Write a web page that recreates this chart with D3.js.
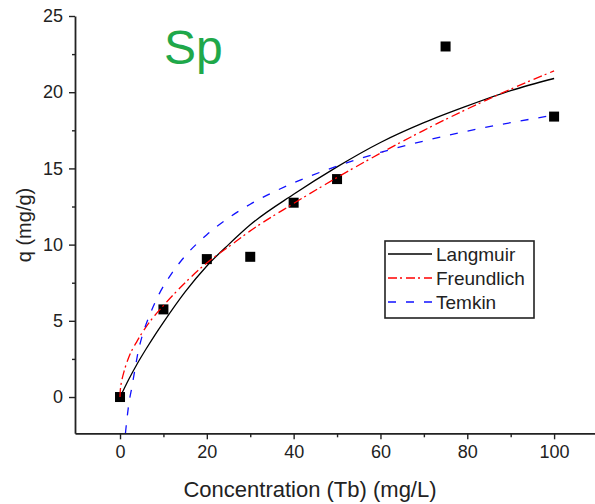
<!DOCTYPE html>
<html>
<head>
<meta charset="utf-8">
<script src="https://cdn.jsdelivr.net/npm/d3@7"></script>
<style>
  body { margin: 0; background: #fff; }
  svg { display: block; }
  text { font-family: "Liberation Sans", Arial, sans-serif; }
</style>
</head>
<body>
<svg id="chart" width="595" height="504"></svg>
<script>
// Measured adsorption data
const concentration = [0, 10, 20, 30, 40, 50, 75, 100];
const uptake = [0, 5.75, 9.05, 9.2, 12.75, 14.3, 23.0, 18.4];

// Isotherm model curves (sampled points)
const langmuirC = [0, 1, 2, 4, 6, 8, 10, 15, 20, 25, 30, 40, 50, 60, 70, 80, 90, 100];
const langmuirQ = [0, 0.58, 1.15, 2.2, 3.15, 4.05, 4.9, 6.9, 8.6, 10.0, 11.3, 13.3, 15.1, 16.7, 18.0, 19.1, 20.1, 20.9];

const freundlichC = [0, 0.05, 0.2, 0.5, 1, 2, 4, 6, 8, 10, 15, 20, 25, 30, 40, 50, 60, 70, 80, 90, 100];
const freundlichQ = [0, 0.35, 0.75, 1.2, 1.75, 2.6, 3.7, 4.6, 5.35, 6.0, 7.5, 8.8, 9.85, 10.9, 12.7, 14.4, 16.0, 17.5, 18.9, 20.2, 21.4];

const temkinC = [1.25, 1.5, 2, 2.7, 3.5, 4.2, 5, 7, 9, 12, 15, 20, 25, 30, 40, 50, 60, 70, 80, 90, 100];
const temkinQ = [-2.38, -1.7, -0.5, 0.6, 1.9, 3.0, 3.9, 5.5, 6.75, 8.15, 9.25, 10.65, 11.75, 12.65, 14.05, 15.15, 16.05, 16.8, 17.45, 18.0, 18.5];

const xTicks = [0, 20, 40, 60, 80, 100];
const xMinorTicks = [10, 30, 50, 70, 90];
const yTicks = [0, 5, 10, 15, 20, 25];
const yMinorTicks = [2.5, 7.5, 12.5, 17.5, 22.5];
const seriesNames = ["Langmuir", "Freundlich", "Temkin"];

const svg = d3.select("#chart");

const x = d3.scaleLinear().domain([-10.37, 110]).range([75, 597.5]);
const y = d3.scaleLinear().domain([-2.38, 25]).range([433.3, 16]);

// Clip curves to the plotting area
svg.append("defs").append("clipPath").attr("id", "plotArea")
  .append("rect").attr("x", 75).attr("y", 16).attr("width", 522).attr("height", 417.3);

const axisColor = "#222";

// X axis
const gx = svg.append("g").attr("transform", `translate(0,${y.range()[0]})`);
gx.call(d3.axisBottom(x).tickValues(xTicks).tickSize(6).tickSizeOuter(0).tickPadding(6));
gx.append("g").call(d3.axisBottom(x).tickValues(xMinorTicks).tickSize(4).tickFormat(""))
  .select(".domain").remove();

// Y axis
const gy = svg.append("g").attr("transform", `translate(${x.range()[0]},0)`);
gy.call(d3.axisLeft(y).tickValues(yTicks).tickSize(6).tickSizeOuter(0).tickPadding(6));
gy.append("g").call(d3.axisLeft(y).tickValues(yMinorTicks).tickSize(3).tickFormat(""))
  .select(".domain").remove();

svg.selectAll(".domain").attr("stroke", axisColor).attr("stroke-width", 1.8);
svg.selectAll(".tick line").attr("stroke", axisColor).attr("stroke-width", 1.4);
svg.selectAll(".tick text")
  .attr("fill", "#222")
  .attr("font-size", 18)
  .attr("font-family", "'Liberation Sans', Arial, sans-serif");

// Axis titles
svg.append("text")
  .attr("x", 310).attr("y", 497)
  .attr("text-anchor", "middle")
  .attr("font-size", 22)
  .attr("fill", "#222")
  .text("Concentration (Tb) (mg/L)");

svg.append("text")
  .attr("transform", "translate(31,225) rotate(-90)")
  .attr("text-anchor", "middle")
  .attr("font-size", 20)
  .attr("fill", "#222")
  .text("q (mg/g)");

// Panel label
svg.append("text")
  .attr("x", 164).attr("y", 63.5)
  .attr("font-size", 48)
  .attr("fill", "#1fa84a")
  .text("Sp");

// Data markers
svg.append("g").selectAll("rect")
  .data(concentration.map((c, i) => [c, uptake[i]]))
  .join("rect")
  .attr("x", d => x(d[0]) - 5)
  .attr("y", d => y(d[1]) - 5)
  .attr("width", 10).attr("height", 10)
  .attr("fill", "#000");

// Model curves
const line = d3.line().x(d => x(d[0])).y(d => y(d[1])).curve(d3.curveMonotoneX);
const models = [
  { name: seriesNames[0], c: langmuirC, q: langmuirQ, color: "#000", dash: null, width: 1.3 },
  { name: seriesNames[1], c: freundlichC, q: freundlichQ, color: "#ff0000", dash: "9,3,2,4", width: 1.3 },
  { name: seriesNames[2], c: temkinC, q: temkinQ, color: "#1010ff", dash: "8,10", width: 1.3 }
];

const curves = svg.append("g").attr("clip-path", "url(#plotArea)");
models.forEach(m => {
  curves.append("path")
    .datum(m.c.map((c, i) => [c, m.q[i]]))
    .attr("fill", "none")
    .attr("stroke", m.color)
    .attr("stroke-width", m.width)
    .attr("stroke-dasharray", m.dash)
    .attr("d", line);
});

// Legend
const legend = svg.append("g");
legend.append("rect")
  .attr("x", 385).attr("y", 241).attr("width", 149).attr("height", 77)
  .attr("fill", "#fff").attr("stroke", "#222").attr("stroke-width", 1.6);
models.forEach((m, i) => {
  const ry = 254 + i * 24;
  legend.append("line")
    .attr("x1", 388).attr("x2", 432).attr("y1", ry).attr("y2", ry)
    .attr("stroke", m.color).attr("stroke-width", m.width)
    .attr("stroke-dasharray", m.dash);
  legend.append("text")
    .attr("x", 436).attr("y", ry + 7)
    .attr("font-size", 19)
    .attr("fill", "#222")
    .text(m.name);
});
</script>
</body>
</html>
